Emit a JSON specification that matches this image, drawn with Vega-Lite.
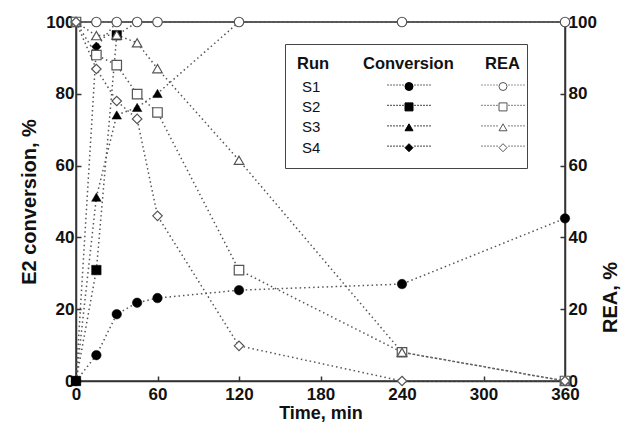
{
  "$schema": "https://vega.github.io/schema/vega-lite/v6.json",
  "width": 489,
  "height": 359,
  "autosize": {"type": "none"},
  "padding": {"left": 76, "top": 22, "right": 58, "bottom": 49},
  "background": "white",
  "config": {
    "view": {"stroke": "#333", "strokeWidth": 1.5},
    "font": "Liberation Sans",
    "axis": {
      "labelFont": "Liberation Sans", "labelFontWeight": "bold", "labelFontSize": 17, "labelColor": "#111",
      "titleFont": "Liberation Sans", "titleFontWeight": "bold", "titleColor": "#111",
      "domainColor": "#333", "domainWidth": 1.5, "tickColor": "#333", "tickWidth": 1.5,
      "tickSize": -5, "grid": false, "labelPadding": 7, "labelFlush": false, "labelOverlap": false
    },
    "legend": {
      "orient": "none",
      "titleFont": "Liberation Sans", "labelFont": "Liberation Sans",
      "titleFontSize": 16.5, "labelFontSize": 15, "titleFontWeight": "bold",
      "titleColor": "#111", "labelColor": "#111", "rowPadding": 4.4, "titlePadding": 6.5
    }
  },
  "data": {
    "values": [
      {"run": "S1", "t": 0, "conv": 0, "rea": 100},
      {"run": "S1", "t": 15, "conv": 7.2, "rea": 100},
      {"run": "S1", "t": 30, "conv": 18.6, "rea": 100},
      {"run": "S1", "t": 45, "conv": 21.8, "rea": 100},
      {"run": "S1", "t": 60, "conv": 23.1, "rea": 100},
      {"run": "S1", "t": 120, "conv": 25.3, "rea": 100},
      {"run": "S1", "t": 240, "conv": 27.0, "rea": 100},
      {"run": "S1", "t": 360, "conv": 45.3, "rea": 100},
      {"run": "S2", "t": 0, "conv": 0, "rea": 100},
      {"run": "S2", "t": 15, "conv": 30.9, "rea": 90.8},
      {"run": "S2", "t": 30, "conv": 96.3, "rea": 88},
      {"run": "S2", "t": 45, "conv": 100, "rea": 79.9},
      {"run": "S2", "t": 60, "conv": 100, "rea": 74.8},
      {"run": "S2", "t": 120, "conv": 100, "rea": 30.9},
      {"run": "S2", "t": 240, "conv": 100, "rea": 8},
      {"run": "S2", "t": 360, "conv": 100, "rea": 0},
      {"run": "S3", "t": 0, "conv": 0, "rea": 100},
      {"run": "S3", "t": 15, "conv": 51.2, "rea": 96.2},
      {"run": "S3", "t": 30, "conv": 74.1, "rea": 96.4},
      {"run": "S3", "t": 45, "conv": 76.2, "rea": 94.2},
      {"run": "S3", "t": 60, "conv": 80.1, "rea": 87},
      {"run": "S3", "t": 120, "conv": 100, "rea": 61.5},
      {"run": "S3", "t": 240, "conv": 100, "rea": 8},
      {"run": "S3", "t": 360, "conv": 100, "rea": 0},
      {"run": "S4", "t": 0, "conv": 0, "rea": 100},
      {"run": "S4", "t": 15, "conv": 93.1, "rea": 86.9},
      {"run": "S4", "t": 30, "conv": 100, "rea": 78},
      {"run": "S4", "t": 45, "conv": 100, "rea": 73},
      {"run": "S4", "t": 60, "conv": 100, "rea": 46},
      {"run": "S4", "t": 120, "conv": 100, "rea": 9.8},
      {"run": "S4", "t": 240, "conv": 100, "rea": 0},
      {"run": "S4", "t": 360, "conv": 100, "rea": 0}
    ]
  },
  "encoding": {
    "x": {
      "field": "t", "type": "quantitative",
      "scale": {"domain": [0, 360], "nice": false},
      "axis": {"values": [0, 60, 120, 180, 240, 300, 360], "title": "Time, min", "titleFontSize": 18, "titlePadding": 2, "labelPadding": 10}
    }
  },
  "layer": [
    {
      "transform": [{"fold": ["conv", "rea"], "as": ["measure", "val"]}],
      "mark": {"type": "line", "stroke": "#555", "strokeWidth": 1.5},
      "encoding": {
        "y": {
          "field": "val", "type": "quantitative",
          "scale": {"domain": [0, 100], "nice": false},
          "axis": {"values": [0, 20, 40, 60, 80, 100], "title": "E2 conversion, %", "titleFontSize": 20, "titlePadding": 6}
        },
        "detail": {"field": "measure", "type": "nominal"},
        "strokeDash": {
          "field": "run", "type": "nominal",
          "scale": {"domain": ["S1", "S2", "S3", "S4"], "range": [[1.5, 3], [1.5, 3], [1.5, 3], [1.5, 3]]},
          "legend": {
            "title": "Run",
            "legendX": 209, "legendY": 22, "padding": 12,
            "strokeColor": "#444",
            "symbolOpacity": 0, "symbolSize": 1, "symbolStrokeWidth": 1,
            "symbolOffset": 209.5,
            "labelOffset": -219.5
          }
        }
      }
    },
    {
      "transform": [{"filter": "datum.conv < 100"}],
      "mark": {"type": "point", "filled": true, "fill": "black", "stroke": "black", "strokeWidth": 0.5, "size": 90, "opacity": 1},
      "encoding": {
        "y": {"field": "conv", "type": "quantitative", "scale": {"domain": [0, 100], "nice": false}, "axis": null},
        "shape": {
          "field": "run", "type": "nominal",
          "scale": {"domain": ["S1", "S2", "S3", "S4"], "range": ["circle", "square", "triangle-up", "diamond"]},
          "legend": {
            "title": "Conversion",
            "legendX": 287, "legendY": 34, "padding": 0,
            "symbolSize": 64, "symbolOffset": 38.5, "symbolStrokeWidth": 1,
            "labelOpacity": 0
          }
        },
        "opacity": {
          "field": "run", "type": "nominal",
          "scale": {"type": "ordinal", "range": [1, 1, 1, 1]},
          "legend": {
            "title": null,
            "legendX": 287, "legendY": 55.5, "padding": 0,
            "symbolType": "M1.35,-0.15h0.3v0.3h-0.3ZM2.1,-0.15h0.3v0.3h-0.3ZM2.85,-0.15h0.3v0.3h-0.3ZM3.6,-0.15h0.3v0.3h-0.3ZM4.35,-0.15h0.3v0.3h-0.3ZM5.1,-0.15h0.3v0.3h-0.3ZM-1.65,-0.15h0.3v0.3h-0.3ZM-2.4,-0.15h0.3v0.3h-0.3ZM-3.15,-0.15h0.3v0.3h-0.3ZM-3.9,-0.15h0.3v0.3h-0.3ZM-4.65,-0.15h0.3v0.3h-0.3ZM-5.4,-0.15h0.3v0.3h-0.3Z",
            "symbolSize": 64, "symbolOffset": 38.5, "symbolStrokeWidth": 0,
            "labelExpr": "''"
          }
        }
      }
    },
    {
      "mark": {"type": "point", "filled": true, "fill": "white", "stroke": "#555", "strokeWidth": 1.2, "size": 90, "opacity": 1},
      "encoding": {
        "y": {
          "field": "rea", "type": "quantitative",
          "scale": {"domain": [0, 100], "nice": false},
          "axis": {"orient": "right", "values": [0, 20, 40, 60, 80, 100], "title": "REA, %", "titleFontSize": 20, "titleAngle": 270, "titleBaseline": "top", "titleY": 275, "titlePadding": 4, "labelPadding": 8}
        },
        "shape": {
          "field": "run", "type": "nominal",
          "scale": {"domain": ["S1", "S2", "S3", "S4"], "range": ["circle", "square", "triangle-up", "diamond"]},
          "legend": {
            "title": "REA",
            "legendX": 409, "legendY": 34, "padding": 0,
            "symbolSize": 64, "symbolOffset": 10.5, "symbolStrokeWidth": 1,
            "labelOpacity": 0
          }
        },
        "opacity": {
          "field": "run", "type": "nominal",
          "scale": {"type": "ordinal", "range": [1, 1, 1, 1]},
          "legend": {
            "title": null,
            "legendX": 389, "legendY": 55.5, "padding": 0,
            "symbolType": "M1.35,0h0.3M2.1,0h0.3M2.85,0h0.3M3.6,0h0.3M4.35,0h0.3M5.1,0h0.3M-1.65,0h0.3M-2.4,0h0.3M-3.15,0h0.3M-3.9,0h0.3M-4.65,0h0.3M-5.4,0h0.3",
            "symbolSize": 64, "symbolOffset": 30.5, "symbolStrokeWidth": 1.2,
            "labelExpr": "''"
          }
        }
      }
    }
  ],
  "resolve": {
    "scale": {"y": "independent", "shape": "independent", "opacity": "independent"},
    "axis": {"y": "independent"},
    "legend": {"shape": "independent", "opacity": "independent"}
  }
}
